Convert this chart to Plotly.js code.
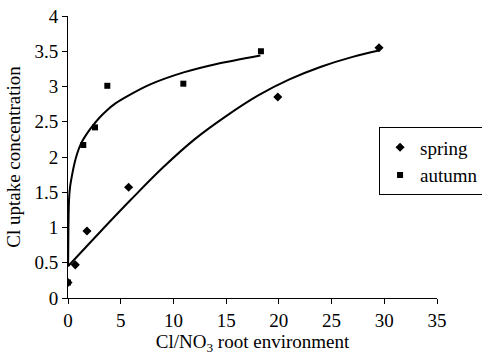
<!DOCTYPE html>
<html>
<head>
<meta charset="utf-8">
<script src="https://cdn.plot.ly/plotly-3.0.1.min.js"></script>
<style>html,body{margin:0;padding:0;background:#fff;}#chart{width:482px;height:355px;}</style>
</head>
<body>
<div id="chart"></div>
<script>
// Observed data points
const springX = [0.0, 0.69, 1.80, 5.75, 19.9, 29.5];
const springY = [0.22, 0.47, 0.95, 1.57, 2.85, 3.55];
const autumnX = [0.0, 1.45, 2.56, 3.73, 10.94, 18.3];
const autumnY = [0.22, 2.17, 2.42, 3.01, 3.04, 3.50];

// Trend lines
const springTrendX = [0, 3, 6, 9, 12, 15, 18, 21, 24, 27, 29.5];
const springTrendY = [0.45, 0.93, 1.40, 1.85, 2.25, 2.58, 2.87, 3.10, 3.28, 3.42, 3.51];
const autumnTrendX = [0.01, 0.04, 0.1, 0.2, 0.38, 0.6, 0.85, 1.23, 1.7, 2.28, 3.0, 3.6, 4.5, 5.6, 7.8, 10.97, 14.1, 18.25];
const autumnTrendY = [0.45, 1.0, 1.40, 1.58, 1.74, 1.90, 2.04, 2.19, 2.31, 2.43, 2.56, 2.65, 2.76, 2.86, 3.03, 3.20, 3.32, 3.44];

const seriesNames = ['spring', 'autumn'];
const xTicks = [0, 5, 10, 15, 20, 25, 30, 35];
const yTicks = [0, 0.5, 1, 1.5, 2, 2.5, 3, 3.5, 4];

const font = {family: 'Liberation Serif, Times New Roman, serif', color: '#000'};
const f = (s) => Object.assign({size: s}, font);

const traces = [
  {x: springTrendX, y: springTrendY, mode: 'lines', line: {color: '#000', width: 2, shape: 'spline', smoothing: 1}, showlegend: false, hoverinfo: 'skip'},
  {x: autumnTrendX, y: autumnTrendY, mode: 'lines', line: {color: '#000', width: 2, shape: 'spline', smoothing: 0.8}, showlegend: false, hoverinfo: 'skip'},
  {x: springX, y: springY, mode: 'markers', name: seriesNames[0], marker: {symbol: 'diamond', size: 7, color: '#000'}},
  {x: autumnX, y: autumnY, mode: 'markers', name: seriesNames[1], marker: {symbol: 'square', size: 6, color: '#000'}}
];

const layout = {
  width: 482, height: 355,
  margin: {l: 68, r: 45, t: 16, b: 57, autoexpand: false},
  paper_bgcolor: '#fff', plot_bgcolor: '#fff',
  font: f(19),
  showlegend: true,
  legend: {x: 0.843, xanchor: 'left', y: 0.605, yanchor: 'top', bordercolor: '#000', borderwidth: 1, bgcolor: '#fff',
           font: f(19), tracegroupgap: 0, itemwidth: 30},
  xaxis: {
    range: [0, 35], tickvals: xTicks, ticktext: xTicks.map(String),
    showgrid: false, zeroline: false, showline: true, linecolor: '#000', linewidth: 1,
    ticks: 'outside', ticklen: 5, tickcolor: '#000', tickfont: f(19),
    title: {text: 'Cl/NO<sub>3</sub> root environment', font: f(19), standoff: 9}
  },
  yaxis: {
    range: [0, 4], tickvals: yTicks, ticktext: yTicks.map(String),
    showgrid: false, zeroline: false, showline: true, linecolor: '#000', linewidth: 1,
    ticks: 'outside', ticklen: 5, tickcolor: '#000', tickfont: f(19),
    title: {text: 'Cl uptake concentration', font: f(19), standoff: 8}
  }
};

Plotly.newPlot('chart', traces, layout, {staticPlot: true, displayModeBar: false});
</script>
</body>
</html>
